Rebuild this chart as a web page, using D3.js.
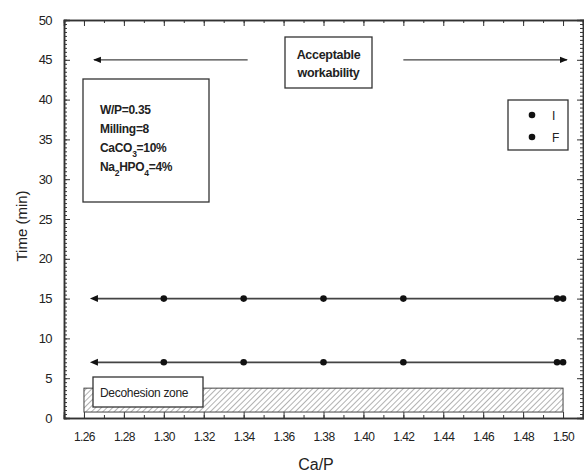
<!DOCTYPE html>
<html>
<head>
<meta charset="utf-8">
<script src="https://cdn.jsdelivr.net/npm/d3@7"></script>
<style>
  body { margin: 0; background: #fff; }
  text { font-family: "Liberation Sans", Arial, sans-serif; fill: #222; }
</style>
</head>
<body>
<div class="chart"></div>
<script>
var svgWidth = 584;
var svgHeight = 473;

var margin = { top: 20, right: 1, bottom: 55, left: 64 };
var width = svgWidth - margin.left - margin.right;
var height = svgHeight - margin.top - margin.bottom;

// data
var caP = [1.265, 1.30, 1.34, 1.38, 1.42, 1.497, 1.50];
var initialTime = [7, 7, 7, 7, 7, 7, 7];
var finalTime = [15, 15, 15, 15, 15, 15, 15];
var xTickLabels = [1.26, 1.28, 1.30, 1.32, 1.34, 1.36, 1.38, 1.40, 1.42, 1.44, 1.46, 1.48, 1.50];
var yTickLabels = [0, 5, 10, 15, 20, 25, 30, 35, 40, 45, 50];
var workabilityArrows = [[1.342, 1.265], [1.42, 1.502]];
var workabilityTime = 45;
var decohesionZone = { x0: 1.26, x1: 1.50, y0: 0.75, y1: 3.75 };
var infoLines = [
  [["W/P=0.35", ""]],
  [["Milling=8", ""]],
  [["CaCO", ""], ["3", "sub"], ["=10%", ""]],
  [["Na", ""], ["2", "sub"], ["HPO", ""], ["4", "sub"], ["=4%", ""]]
];
var legendLabels = ["I", "F"];

var svg = d3.select(".chart")
  .append("svg")
  .attr("width", svgWidth)
  .attr("height", svgHeight);

var defs = svg.append("defs");
var hatch = defs.append("pattern")
  .attr("id", "hatch")
  .attr("patternUnits", "userSpaceOnUse")
  .attr("width", 4)
  .attr("height", 4)
  .attr("patternTransform", "rotate(45)");
hatch.append("line")
  .attr("x1", 0).attr("y1", 0).attr("x2", 0).attr("y2", 4)
  .attr("stroke", "#666")
  .attr("stroke-width", 1);

defs.append("marker")
  .attr("id", "arrow")
  .attr("viewBox", "0 0 10 10")
  .attr("refX", 9).attr("refY", 5)
  .attr("markerWidth", 6).attr("markerHeight", 6)
  .attr("orient", "auto")
  .append("path")
  .attr("d", "M0,1 L10,5 L0,9 Z")
  .attr("fill", "#111");

var chartGroup = svg.append("g")
  .attr("transform", `translate(${margin.left}, ${margin.top})`);

var xScale = d3.scaleLinear().domain([1.25, 1.51]).range([0, width]);
var yScale = d3.scaleLinear().domain([0, 50]).range([height, 0]);

// minor ticks
var xMinor = d3.range(1.26, 1.5051, 0.01);
var yMinor = d3.range(0, 50.01, 0.5);

function styleAxis(g) {
  g.select(".domain").attr("stroke", "#333").attr("stroke-width", 1.5);
  g.selectAll(".tick line").attr("stroke", "#333").attr("stroke-width", 1);
}

// bottom
chartGroup.append("g")
  .attr("transform", `translate(0, ${height})`)
  .call(d3.axisBottom(xScale).tickValues(xMinor).tickSize(-3).tickFormat(""))
  .call(styleAxis);
var bottomAxis = chartGroup.append("g")
  .attr("transform", `translate(0, ${height})`)
  .call(d3.axisBottom(xScale).tickValues(xTickLabels).tickSize(-6).tickPadding(14)
    .tickFormat(d3.format(".2f")))
  .call(styleAxis);
bottomAxis.selectAll("text")
  .attr("font-size", "12px")
  .attr("letter-spacing", "-0.6px")
  .attr("fill", "#222");

// top
chartGroup.append("g")
  .call(d3.axisTop(xScale).tickValues(xMinor).tickSize(-3).tickFormat(""))
  .call(styleAxis);
chartGroup.append("g")
  .call(d3.axisTop(xScale).tickValues(xTickLabels).tickSize(-6).tickFormat(""))
  .call(styleAxis);

// left
chartGroup.append("g")
  .call(d3.axisLeft(yScale).tickValues(yMinor).tickSize(-3).tickFormat(""))
  .call(styleAxis);
var leftAxis = chartGroup.append("g")
  .call(d3.axisLeft(yScale).tickValues(yTickLabels).tickSize(-6).tickPadding(12))
  .call(styleAxis);
leftAxis.selectAll("text")
  .attr("font-size", "13px")
  .attr("letter-spacing", "-0.6px")
  .attr("fill", "#222");

// right
chartGroup.append("g")
  .attr("transform", `translate(${width}, 0)`)
  .call(d3.axisRight(yScale).tickValues(yMinor).tickSize(-3).tickFormat(""))
  .call(styleAxis);
chartGroup.append("g")
  .attr("transform", `translate(${width}, 0)`)
  .call(d3.axisRight(yScale).tickValues(yTickLabels).tickSize(-6).tickFormat(""))
  .call(styleAxis);

// decohesion zone
chartGroup.append("rect")
  .attr("x", xScale(decohesionZone.x0))
  .attr("y", yScale(decohesionZone.y1))
  .attr("width", xScale(decohesionZone.x1) - xScale(decohesionZone.x0))
  .attr("height", yScale(decohesionZone.y0) - yScale(decohesionZone.y1))
  .attr("fill", "url(#hatch)")
  .attr("stroke", "#444")
  .attr("stroke-width", 1);

// decohesion label box
var dz = chartGroup.append("g").attr("transform", "translate(29, 357)");
dz.append("rect")
  .attr("width", 110).attr("height", 30)
  .attr("fill", "#fff").attr("stroke", "#333").attr("stroke-width", 1.3);
dz.append("text")
  .attr("x", 7).attr("y", 19.5)
  .attr("font-size", "12px")
  .attr("fill", "#444")
  .attr("letter-spacing", "-0.3px")
  .text("Decohesion zone");

// series lines
var line = d3.line()
  .x(d => xScale(d[0]))
  .y(d => yScale(d[1]));

[initialTime, finalTime].forEach(function(series) {
  var pts = caP.map((x, i) => [x, series[i]]);
  chartGroup.append("path")
    .datum(pts)
    .attr("d", line)
    .attr("fill", "none")
    .attr("stroke", "#444")
    .attr("stroke-width", 1.8);

  chartGroup.selectAll(null)
    .data(pts.slice(1))
    .enter()
    .append("circle")
    .attr("cx", d => xScale(d[0]))
    .attr("cy", d => yScale(d[1]))
    .attr("r", 3.3)
    .attr("fill", "#111");

  // left end drawn as arrowhead
  var p0 = pts[0];
  chartGroup.append("path")
    .attr("transform", `translate(${xScale(p0[0])}, ${yScale(p0[1])})`)
    .attr("d", "M-4,0 L4,-3.5 L4,3.5 Z")
    .attr("fill", "#111");
});

// acceptable workability arrows
workabilityArrows.forEach(function(a) {
  chartGroup.append("line")
    .attr("x1", xScale(a[0])).attr("y1", yScale(workabilityTime))
    .attr("x2", xScale(a[1])).attr("y2", yScale(workabilityTime))
    .attr("stroke", "#444")
    .attr("stroke-width", 1.3)
    .attr("marker-end", "url(#arrow)");
});

var aw = chartGroup.append("g").attr("transform", "translate(221, 17)");
aw.append("rect")
  .attr("width", 87).attr("height", 51)
  .attr("fill", "#fff").attr("stroke", "#333").attr("stroke-width", 1.3);
aw.selectAll("text")
  .data(["Acceptable", "workability"])
  .enter()
  .append("text")
  .attr("x", 43.5)
  .attr("y", (d, i) => 22 + i * 18)
  .attr("text-anchor", "middle")
  .attr("font-size", "12.5px")
  .attr("font-weight", "bold")
  .attr("letter-spacing", "-0.3px")
  .text(d => d);

// info box
var info = chartGroup.append("g").attr("transform", "translate(19, 59)");
info.append("rect")
  .attr("width", 126).attr("height", 123)
  .attr("fill", "#fff").attr("stroke", "#333").attr("stroke-width", 1.3);
infoLines.forEach(function(parts, i) {
  var t = info.append("text")
    .attr("x", 17)
    .attr("y", 35 + i * 19)
    .attr("font-size", "12px")
    .attr("font-weight", "bold")
    .attr("letter-spacing", "-0.3px");
  var prevSub = false;
  parts.forEach(function(p) {
    var span = t.append("tspan").text(p[0]);
    if (p[1] === "sub") {
      span.attr("dy", 5).attr("font-size", "8.5px");
      prevSub = true;
    } else {
      if (prevSub) span.attr("dy", -5);
      prevSub = false;
    }
  });
});

// legend
var legend = chartGroup.append("g").attr("transform", "translate(444, 80)");
legend.append("rect")
  .attr("width", 60).attr("height", 50)
  .attr("fill", "#fff").attr("stroke", "#333").attr("stroke-width", 1.3);
legendLabels.forEach(function(lab, i) {
  legend.append("circle")
    .attr("cx", 24).attr("cy", 15 + i * 22)
    .attr("r", 3.3).attr("fill", "#111");
  legend.append("text")
    .attr("x", 44).attr("y", 20 + i * 22)
    .attr("font-size", "12px")
    .text(lab);
});

// axis titles
svg.append("text")
  .attr("transform", "translate(27, 226) rotate(-90)")
  .attr("text-anchor", "middle")
  .attr("font-size", "15px")
  .text("Time (min)");

svg.append("text")
  .attr("x", 316)
  .attr("y", 470)
  .attr("text-anchor", "middle")
  .attr("font-size", "16px")
  .text("Ca/P");
</script>
</body>
</html>
